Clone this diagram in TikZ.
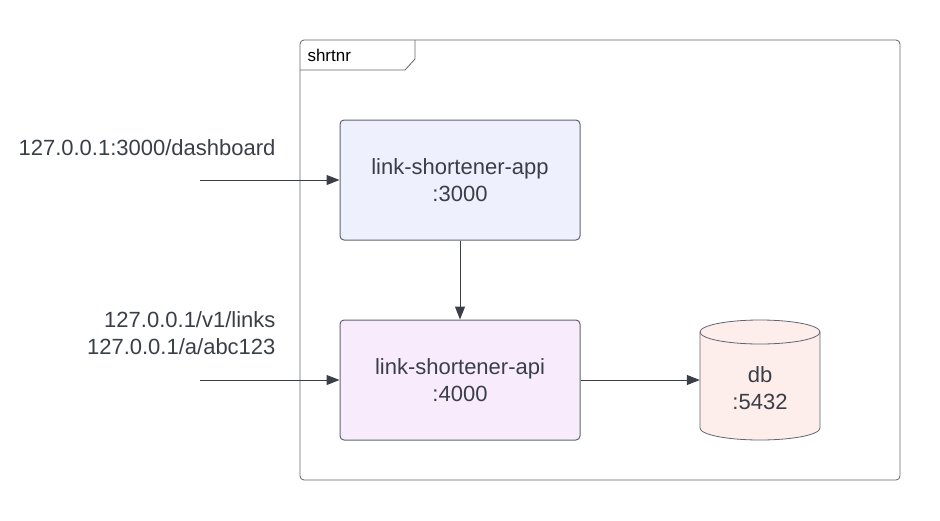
\documentclass[tikz,border=0pt]{standalone}
\usepackage{fontspec}
\setmainfont{Liberation Sans}
\usetikzlibrary{arrows.meta,positioning}
\definecolor{ink}{HTML}{3A3F47}
\definecolor{edge}{HTML}{5F6570}
\definecolor{appfill}{HTML}{EFF0FD}
\definecolor{apifill}{HTML}{F8ECFC}
\definecolor{dbfill}{HTML}{FDEDEB}
\begin{document}
\begin{tikzpicture}[x=1pt,y=-1pt,font=\fontsize{22}{27}\selectfont,text=ink,
box/.style={draw=edge,line width=1pt,rounded corners=4pt,minimum width=240pt,minimum height=120pt,align=center},
link/.style={draw=ink,line width=1pt,-{Triangle[length=13pt,width=10pt]}}]
\useasboundingbox (0,0) rectangle (940,520);
% frame
\draw[edge,line width=0.8pt,rounded corners=4pt] (300,40) rectangle (900,480);
\draw[edge,line width=0.8pt] (300,70) -- (405,70) -- (415,59) -- (415,40);
\node[anchor=west,font=\fontsize{17}{20}\selectfont,text=black] (frame) at (304,55) {shrtnr};
% services
\node[box,fill=appfill] (app) at (460,180) {link-shortener-app\\:3000};
\node[box,fill=apifill] (api) at (460,380) {link-shortener-api\\:4000};
% database
\draw[edge,fill=dbfill,line width=0.8pt] (700,332) -- (700,428) arc (180:0:60 and 12) -- (820,332) arc (0:-180:60 and 12);
\draw[edge,line width=0.8pt] (700,332) arc (180:0:60 and 12);
\node[minimum width=120pt,minimum height=120pt,align=center] (db) at (760,388) {db\\:5432};
% requests
\node[anchor=east] (dash) at (279,148) {127.0.0.1:3000/dashboard};
\node[anchor=east,align=right] (links) at (279,333) {127.0.0.1/v1/links\\127.0.0.1/a/abc123};
\coordinate (in1) at (200,180);
\coordinate (in2) at (200,380);
\path
(in1) edge[link] (app)
(in2) edge[link] (api)
(app) edge[link] (api)
(api.east) edge[link] (db.west |- api.east);
\end{tikzpicture}
\end{document}
